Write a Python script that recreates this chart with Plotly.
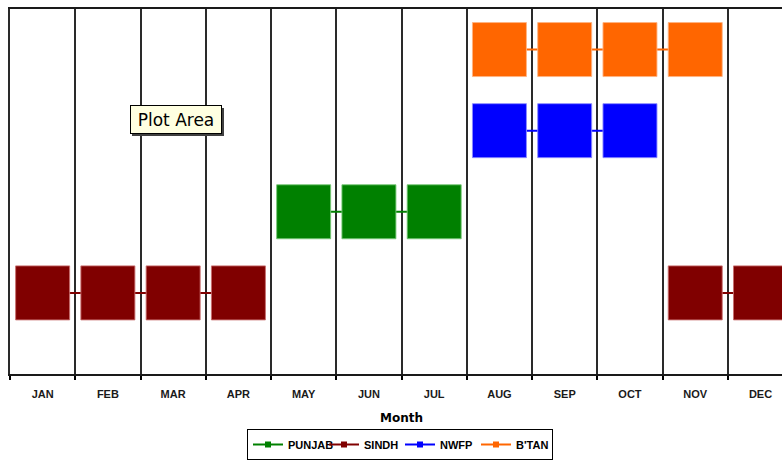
import plotly.graph_objects as go

# Month categories and the region active in each month (level on the y scale)
months = ["JAN", "FEB", "MAR", "APR", "MAY", "JUN", "JUL", "AUG", "SEP", "OCT", "NOV", "DEC"]
punjab = [None, None, None, None, 2, 2, 2, None, None, None, None, None]
sindh = [1, 1, 1, 1, None, None, None, None, None, None, 1, 1]
nwfp = [None, None, None, None, None, None, None, 3, 3, 3, None, None]
btan = [None, None, None, None, None, None, None, 4, 4, 4, 4, None]

series = [
    ("PUNJAB", punjab, "#008000", "rgba(120,200,120,0.9)"),
    ("SINDH", sindh, "#800000", "rgba(200,110,110,0.9)"),
    ("NWFP", nwfp, "#0000FF", "rgba(140,140,255,0.9)"),
    ("B'TAN", btan, "#FF6600", "rgba(255,180,130,0.9)"),
]

W, H = 782, 460
L, T, B = 10, 9, 86
PW, PH = W - L, H - T - B

fig = go.Figure()

for name, vals, col, edge in series:
    fig.add_trace(go.Scatter(
        x=months, y=vals, mode="lines+markers", name=name, showlegend=False,
        connectgaps=False,
        line=dict(color=col, width=2),
        marker=dict(symbol="square", size=54, color=col, line=dict(color=edge, width=1)),
        hoverinfo="skip",
    ))

# small glyphs for the legend entries
for name, vals, col, edge in series:
    fig.add_trace(go.Scatter(
        x=[None], y=[None], mode="lines+markers", name=name, showlegend=True,
        line=dict(color=col, width=2),
        marker=dict(symbol="square", size=6, color=col),
    ))

def px_x(p):
    return (p - L) / PW

def px_y(p):
    return 1 - (p - T) / PH

# tooltip-style label with drop shadow
fig.add_shape(type="rect", xref="paper", yref="paper",
              x0=px_x(132), x1=px_x(224), y0=px_y(136), y1=px_y(108),
              fillcolor="#404040", line=dict(width=0), layer="above")
fig.add_annotation(text="Plot Area", xref="paper", yref="paper",
                   x=px_x(176), y=px_y(120), xanchor="center", yanchor="middle",
                   showarrow=False, width=86, height=23, borderpad=2,
                   bgcolor="#FFFFE1", bordercolor="#000000", borderwidth=1,
                   font=dict(family="DejaVu Sans", size=17, color="#000000"))

fig.add_annotation(text="<b>Month</b>", xref="paper", yref="paper",
                   x=px_x(401), y=px_y(418), xanchor="center", yanchor="middle",
                   showarrow=False,
                   font=dict(family="DejaVu Sans", size=12, color="#000000"))

fig.update_xaxes(
    type="category", range=[-0.5, -0.5 + PW / 65.26],
    tickson="boundaries", ticks="outside", ticklen=4, tickwidth=2, tickcolor="#000000",
    showgrid=True, gridcolor="#2a2a2a", gridwidth=2,
    showline=True, mirror=True, linecolor="#1a1a1a", linewidth=2,
    tickfont=dict(family="Liberation Sans", size=11, color="#1a1a1a", weight="bold"),
    ticklabelstandoff=9, zeroline=False,
)
fig.update_yaxes(range=[0, 4.5], showticklabels=False, ticks="", showgrid=False,
                 zeroline=False, showline=True, linecolor="#2a2a2a", linewidth=2)

fig.update_layout(
    width=W, height=H,
    margin=dict(l=L, r=0, t=T, b=B, pad=0, autoexpand=False),
    paper_bgcolor="#FFFFFF", plot_bgcolor="#FFFFFF",
    showlegend=True,
    legend=dict(orientation="h", xref="container", yref="container",
                x=400 / W, xanchor="center", y=(H - 429) / H, yanchor="top",
                bordercolor="#000000", borderwidth=1, bgcolor="#FFFFFF",
                font=dict(family="Liberation Sans", size=11, color="#000000", weight="bold"),
                itemwidth=30, tracegroupgap=0, entrywidth=31),
    hovermode=False,
)

fig.write_html("out.html")
